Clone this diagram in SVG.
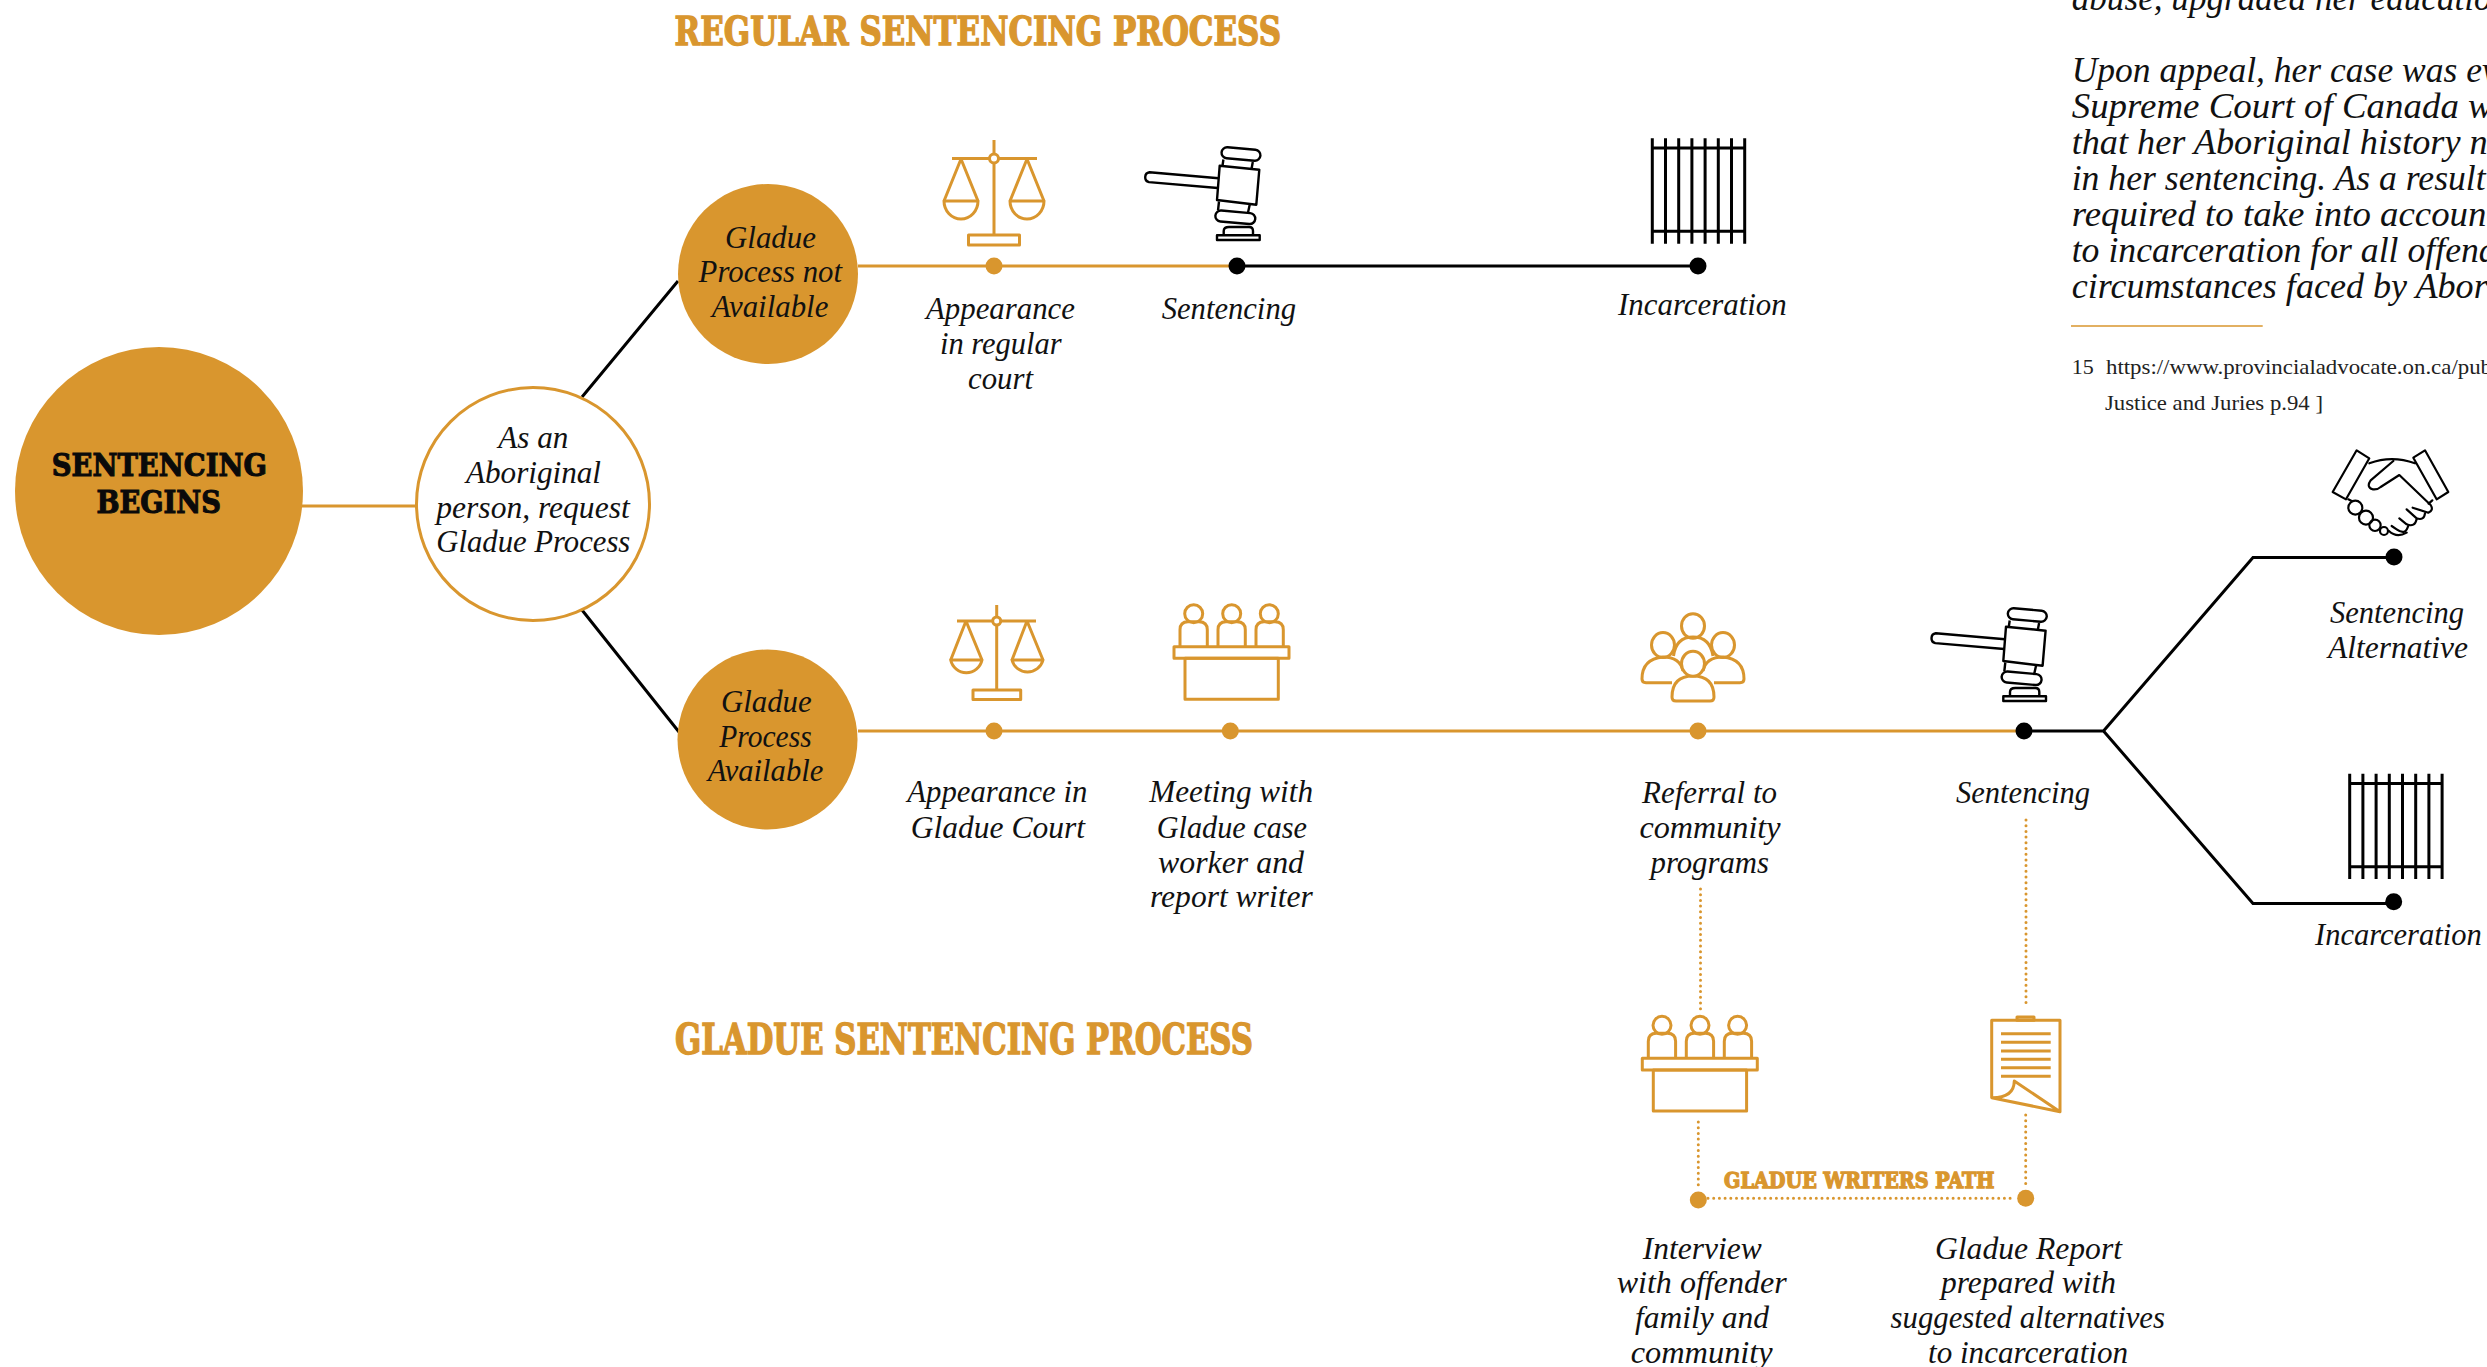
<svg xmlns="http://www.w3.org/2000/svg" width="2487" height="1367" viewBox="0 0 2487 1367">
<style>
.t{font-family:"Liberation Serif",serif;font-style:italic;font-size:32px;fill:#111;transform:translateY(1px)}
.b{font-family:"Liberation Serif",serif;font-style:italic;font-size:35px;fill:#111}
.f{font-family:"Liberation Serif",serif;font-size:22px;fill:#222}
.h{font-family:"DejaVu Serif Condensed","DejaVu Serif",serif;font-stretch:condensed;font-weight:700;fill:#d9962e;stroke:#d9962e;stroke-width:1.3}
.s{font-family:"DejaVu Serif Condensed","DejaVu Serif",serif;font-stretch:condensed;font-weight:700;fill:#0a0a0a;stroke:#0a0a0a;stroke-width:1;font-size:31px}
.g{fill:none;stroke:#d9962e;stroke-width:3}
.k{fill:none;stroke:#000;stroke-width:3}
.gi{fill:none;stroke:#d9962e;stroke-width:3;stroke-linejoin:round}
.ki{fill:none;stroke:#000;stroke-width:2.4;stroke-linejoin:round}
.d{fill:none;stroke:#d9962e;stroke-width:3;stroke-linecap:round;stroke-dasharray:0 5.7}
.gd{fill:#d9962e}
.kd{fill:#000}
</style>
<defs>
<g id="gavel" class="ki">
<path d="M-17.3-100.3L22.3-96.3L19.3-61.3L-20-66Z"/>
<rect x="-15.5" y="-117.5" width="39" height="11" rx="5.5" transform="rotate(5 4 -112)"/>
<path d="M-13.6-106.5L-14.6-99.5M15.8-104L14.5-97M-18-64.5L-19-55.5M13-62.5L11-53.5"/>
<rect x="-21.7" y="-54.2" width="40" height="11" rx="5.5" transform="rotate(5 -1.7 -48.7)"/>
<path d="M-18.3-87.7L-87.5-93.7A5 5 0 0 0-88-83.9L-19.3-78"/>
<rect x="-20" y="-30.7" width="42.7" height="4.7"/>
<path d="M-13.3-30.7V-35Q-13.3-39-8-39H12Q16-39 16-35V-30.7"/>
</g>
<g id="jail" fill="none" stroke="#000" stroke-width="3">
<path d="M0 0V105.4M13.2 0V105.4M26.4 0V105.4M39.6 0V105.4M52.8 0V105.4M66 0V105.4M79.2 0V105.4M92.4 0V105.4"/>
<path d="M0 9.7H92.4M0 93H92.4"/>
</g>
<g id="desk" class="gi">
<circle cx="19.7" cy="-33" r="9"/><circle cx="57.7" cy="-33" r="9"/><circle cx="95.3" cy="-33" r="9"/>
<path d="M6 0V-17Q6-25 14-25H25Q33.3-25 33.3-17V0"/>
<path d="M44 0V-17Q44-25 52-25H63Q71.3-25 71.3-17V0"/>
<path d="M82 0V-17Q82-25 90-25H101Q109.3-25 109.3-17V0"/>
<rect x="0" y="0" width="115" height="11.6"/>
<rect x="11" y="11.6" width="93.3" height="41"/>
</g>
</defs>
<g transform="translate(0 1)">
<g id="connectors">
<path class="g" d="M302 505H416"/>
<path class="k" d="M582 396L678 280M582 609L679 731"/>
<path class="g" d="M858 265H1237"/>
<path class="k" d="M1237 265H1698"/>
<path class="g" d="M858 730H2024"/>
<path class="k" d="M2024 730H2103.5L2253 556.5H2394M2103.5 730L2253 902.5H2394"/>
<path class="d" d="M1700.5 888V1012M2026 819V1007M1698.3 1121V1187M2025.7 1114V1187M1708 1197.3H2015"/>
</g>

<g id="node-sentencing-begins">
<circle class="gd" cx="159" cy="490" r="144"/>
<text class="s" x="51.7" y="475.4" textLength="215.3" lengthAdjust="spacingAndGlyphs">SENTENCING</text>
<text class="s" x="96.4" y="512" textLength="124.6" lengthAdjust="spacingAndGlyphs">BEGINS</text>
</g>
<g id="node-request">
<circle cx="533" cy="503" r="116.5" fill="#fff" stroke="#d9962e" stroke-width="3"/>
<text class="t" x="498.3" y="446.4" textLength="70" lengthAdjust="spacingAndGlyphs">As an</text>
<text class="t" x="466" y="480.8" textLength="135" lengthAdjust="spacingAndGlyphs">Aboriginal</text>
<text class="t" x="436.3" y="515.6" textLength="193.4" lengthAdjust="spacingAndGlyphs">person, request</text>
<text class="t" x="436.3" y="550" textLength="194" lengthAdjust="spacingAndGlyphs">Gladue Process</text>
</g>
<g id="node-not-available">
<circle class="gd" cx="768" cy="273" r="90"/>
<text class="t" x="725" y="245.5" textLength="91" lengthAdjust="spacingAndGlyphs">Gladue</text>
<text class="t" x="698.6" y="280" textLength="143.4" lengthAdjust="spacingAndGlyphs">Process not</text>
<text class="t" x="711.8" y="314.7" textLength="116.6" lengthAdjust="spacingAndGlyphs">Available</text>
</g>
<g id="node-available">
<circle class="gd" cx="767.5" cy="738.5" r="90"/>
<text class="t" x="721" y="710" textLength="90.7" lengthAdjust="spacingAndGlyphs">Gladue</text>
<text class="t" x="719.3" y="745" textLength="92.4" lengthAdjust="spacingAndGlyphs">Process</text>
<text class="t" x="707.7" y="779" textLength="115.6" lengthAdjust="spacingAndGlyphs">Available</text>
</g>

<text id="title-regular" class="h" font-size="40" x="674.5" y="43.6" textLength="606.5" lengthAdjust="spacingAndGlyphs">REGULAR SENTENCING PROCESS</text>
<text id="title-gladue" class="h" font-size="42" x="675" y="1053.3" textLength="578" lengthAdjust="spacingAndGlyphs">GLADUE SENTENCING PROCESS</text>

<g id="node-appearance-regular">
<g class="gi">
<path d="M994 139V234M952 157.5H1037M961 158L944 200M961 158L978 200M1027 158L1010 200M1027 158L1044 200"/>
<path d="M944 200H978A17 18 0 0 1 944 200ZM1010 200H1044A17 18 0 0 1 1010 200Z"/>
<circle cx="994" cy="157.5" r="4.5" fill="#fff"/>
<rect x="968.5" y="234" width="51" height="10"/>
</g>
<circle class="gd" cx="994" cy="265" r="8.5"/>
<text class="t" x="926" y="317" textLength="149" lengthAdjust="spacingAndGlyphs">Appearance</text>
<text class="t" x="940" y="351.7" textLength="121.7" lengthAdjust="spacingAndGlyphs">in regular</text>
<text class="t" x="968" y="386.7" textLength="65" lengthAdjust="spacingAndGlyphs">court</text>
</g>
<g id="node-sentencing-regular">
<use href="#gavel" transform="translate(1237 265)"/>
<circle class="kd" cx="1237" cy="265" r="8.5"/>
<text class="t" x="1161.7" y="317" textLength="134.3" lengthAdjust="spacingAndGlyphs">Sentencing</text>
</g>
<g id="node-incarceration-regular">
<use href="#jail" transform="translate(1652.3 137.3)"/>
<circle class="kd" cx="1698" cy="265" r="8.5"/>
<text class="t" x="1618" y="313.3" textLength="168.7" lengthAdjust="spacingAndGlyphs">Incarceration</text>
</g>

<g id="node-appearance-gladue">
<g class="gi">
<path d="M996.7 604V689M957 620H1036M966 620L950.7 659M966 620L982 659M1027 620L1012 659M1027 620L1043 659"/>
<path d="M950.7 659H982A16 16 0 0 1 950.7 659ZM1012 659H1043A16 16 0 0 1 1012 659Z"/>
<circle cx="996.7" cy="620" r="4" fill="#fff"/>
<rect x="973" y="689" width="47.7" height="9.5"/>
</g>
<circle class="gd" cx="994" cy="730" r="8.5"/>
<text class="t" x="907.3" y="800" textLength="180" lengthAdjust="spacingAndGlyphs">Appearance in</text>
<text class="t" x="910.7" y="835.7" textLength="174.3" lengthAdjust="spacingAndGlyphs">Gladue Court</text>
</g>
<g id="node-meeting">
<use href="#desk" transform="translate(1174 645.7)"/>
<circle class="gd" cx="1230.3" cy="730" r="8.5"/>
<text class="t" x="1149.3" y="800" textLength="163.7" lengthAdjust="spacingAndGlyphs">Meeting with</text>
<text class="t" x="1156.7" y="835.7" textLength="150.3" lengthAdjust="spacingAndGlyphs">Gladue case</text>
<text class="t" x="1158" y="871" textLength="146" lengthAdjust="spacingAndGlyphs">worker and</text>
<text class="t" x="1150" y="905" textLength="162.7" lengthAdjust="spacingAndGlyphs">report writer</text>
</g>
<g id="node-referral">
<g class="gi" stroke-width="2.4">
<path d="M1673.5 655Q1676 636 1693 636Q1710 636 1713 655"/>
<path d="M1683 670Q1680 656 1663 656Q1642 658 1642 678Q1642 681.7 1646 681.7H1672"/>
<path d="M1703 670Q1706 656 1723 656Q1744 658 1744 678Q1744 681.7 1740 681.7H1714"/>
<path d="M1672 696Q1672 675 1693 675Q1714 675 1714 696Q1714 700 1710 700H1676Q1672 700 1672 696Z"/>
<ellipse cx="1693" cy="625" rx="11.5" ry="12.3"/>
<ellipse cx="1663" cy="644" rx="11.5" ry="12.5"/>
<ellipse cx="1723" cy="644" rx="11.5" ry="12.5"/>
<ellipse cx="1693" cy="662.7" rx="11.5" ry="12.5" fill="#fff"/>
</g>
<circle class="gd" cx="1698" cy="730" r="8.5"/>
<text class="t" x="1642" y="800.7" textLength="135" lengthAdjust="spacingAndGlyphs">Referral to</text>
<text class="t" x="1639.4" y="836" textLength="141.2" lengthAdjust="spacingAndGlyphs">community</text>
<text class="t" x="1650.5" y="871" textLength="118.5" lengthAdjust="spacingAndGlyphs">programs</text>
</g>
<g id="node-sentencing-gladue">
<use href="#gavel" transform="translate(2023.3 726)"/>
<circle class="kd" cx="2024" cy="730" r="8.5"/>
<text class="t" x="1956" y="800.7" textLength="134" lengthAdjust="spacingAndGlyphs">Sentencing</text>
</g>
<g id="node-alternative">
<g transform="translate(2240 430) scale(.3333)" fill="none" stroke="#000" stroke-width="6.5" stroke-linejoin="round" stroke-linecap="round">
<path d="M350 58L388 82L318 205L278 183Z"/>
<path d="M555 58L520 80L590 205L625 183Z"/>
<path d="M388 97Q455 72 525 97"/>
<path d="M460 90L392 148Q378 168 398 175Q412 177 422 168L478 132L572 222Q582 238 565 245L518 230"/>
<path d="M577 208L566 218M555 247Q552 270 530 262L500 235M530 264Q525 290 500 280L478 262M505 283Q498 315 470 295L455 285"/>
<path d="M325 205L335 210M447 300Q470 322 500 305"/>
<circle cx="346" cy="230" r="21"/>
<circle cx="378" cy="260" r="21"/>
<circle cx="405" cy="283" r="17"/>
<circle cx="432" cy="300" r="12"/>
</g>
<circle class="kd" cx="2394" cy="556" r="8.5"/>
<text class="t" x="2330" y="620.7" textLength="134" lengthAdjust="spacingAndGlyphs">Sentencing</text>
<text class="t" x="2328" y="655.7" textLength="140" lengthAdjust="spacingAndGlyphs">Alternative</text>
</g>
<g id="node-incarceration-gladue">
<use href="#jail" transform="translate(2349.7 772.7)"/>
<circle class="kd" cx="2393.7" cy="900.7" r="8.5"/>
<text class="t" x="2315" y="943" textLength="166.7" lengthAdjust="spacingAndGlyphs">Incarceration</text>
</g>
<g id="node-interview">
<use href="#desk" transform="translate(1642.3 1057.3)"/>
<circle class="gd" cx="1698.3" cy="1199" r="8.5"/>
<text class="t" x="1642.7" y="1256.7" textLength="119" lengthAdjust="spacingAndGlyphs">Interview</text>
<text class="t" x="1616.7" y="1290.7" textLength="170" lengthAdjust="spacingAndGlyphs">with offender</text>
<text class="t" x="1635" y="1326" textLength="134" lengthAdjust="spacingAndGlyphs">family and</text>
<text class="t" x="1630.7" y="1361" textLength="142" lengthAdjust="spacingAndGlyphs">community</text>
</g>
<g id="node-report">
<g class="gi" stroke-width="2.4">
<path d="M1991.7 1096.7V1019.3H2060V1110.7L1991.7 1096.7Q2014 1097 2014.3 1080L2060 1110.7"/>
<rect x="2017" y="1016" width="17" height="3.3"/>
<path d="M2001 1032.7H2050.7M2001 1041.3H2050.7M2001 1050H2050.7M2001 1058.3H2050.7M2001 1066.7H2050.7M2001 1075.3H2050.7"/>
</g>
<circle class="gd" cx="2025.7" cy="1197.3" r="8.5"/>
<text class="t" x="1935" y="1256.7" textLength="187" lengthAdjust="spacingAndGlyphs">Gladue Report</text>
<text class="t" x="1941" y="1290.7" textLength="175" lengthAdjust="spacingAndGlyphs">prepared with</text>
<text class="t" x="1890.5" y="1326" textLength="274.5" lengthAdjust="spacingAndGlyphs">suggested alternatives</text>
<text class="t" x="1928" y="1361" textLength="200" lengthAdjust="spacingAndGlyphs">to incarceration</text>
</g>
<text id="label-writers-path" class="h" font-size="23" x="1724" y="1186.7" textLength="270.3" lengthAdjust="spacingAndGlyphs">GLADUE WRITERS PATH</text>

<g id="side-text">
<text class="b" x="2071.7" y="9" textLength="420" lengthAdjust="spacingAndGlyphs">abuse, upgraded her educatio</text>
<text class="b" x="2071.7" y="81" textLength="426" lengthAdjust="spacingAndGlyphs">Upon appeal, her case was ev</text>
<text class="b" x="2071.7" y="116.7" textLength="421" lengthAdjust="spacingAndGlyphs">Supreme Court of Canada w</text>
<text class="b" x="2071.7" y="152.7" textLength="416" lengthAdjust="spacingAndGlyphs">that her Aboriginal history n</text>
<text class="b" x="2071.7" y="188.7" textLength="414" lengthAdjust="spacingAndGlyphs">in her sentencing. As a result</text>
<text class="b" x="2071.7" y="225" textLength="425" lengthAdjust="spacingAndGlyphs">required to take into account</text>
<text class="b" x="2071.7" y="261" textLength="425" lengthAdjust="spacingAndGlyphs">to incarceration for all offend</text>
<text class="b" x="2071.7" y="296.7" textLength="416" lengthAdjust="spacingAndGlyphs">circumstances faced by Abor</text>
<path d="M2071 325H2262.7" stroke="#d9962e" stroke-width="1.5" fill="none"/>
<text class="f" x="2071.7" y="372.7">15</text>
<text class="f" x="2106" y="372.7" textLength="386" lengthAdjust="spacingAndGlyphs">https://www.provincialadvocate.on.ca/pub</text>
<text class="f" x="2105" y="409.3" textLength="218" lengthAdjust="spacingAndGlyphs">Justice and Juries p.94 ]</text>
</g>
</g>
</svg>
